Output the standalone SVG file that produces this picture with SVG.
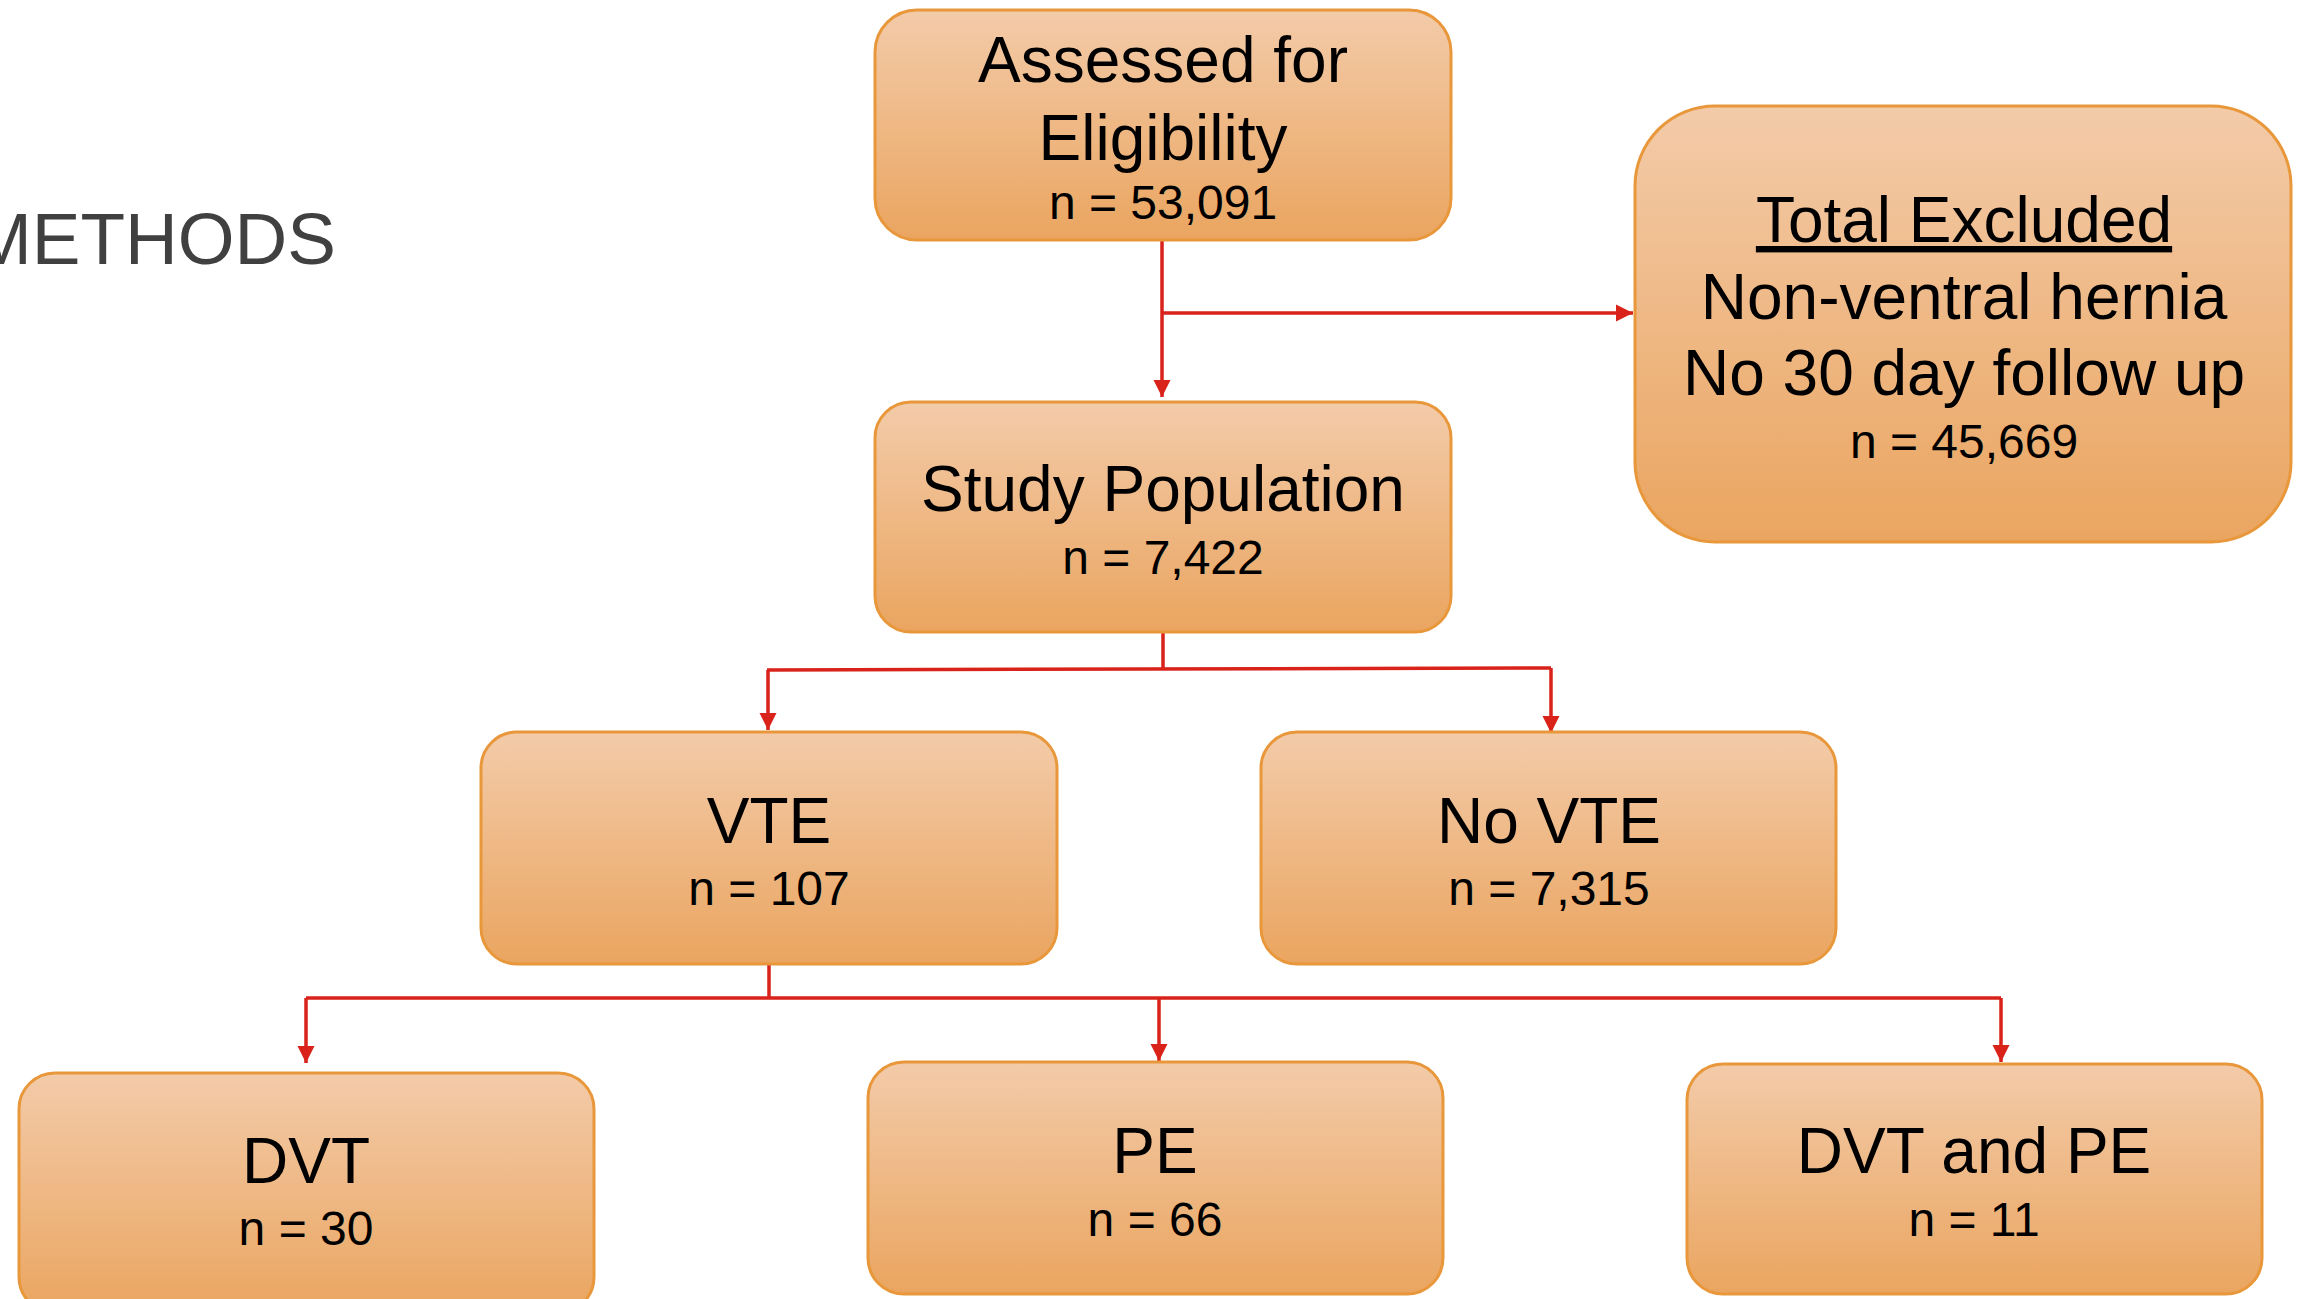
<svg xmlns="http://www.w3.org/2000/svg" width="2305" height="1299" viewBox="0 0 2305 1299">
<defs>
<linearGradient id="g" x1="0" y1="0" x2="0" y2="1">
<stop offset="0" stop-color="#F3CBA9"/>
<stop offset="1" stop-color="#EAA560"/>
</linearGradient>
<marker id="ah" viewBox="0 0 10 10" refX="10" refY="5" markerWidth="5" markerHeight="5" orient="auto" markerUnits="strokeWidth">
<path d="M0,0 L10,5 L0,10 Z" fill="#D9221A"/>
</marker>
<style>
.box{fill:url(#g);stroke:#E9973B;stroke-width:3}
.t{font-family:"Liberation Sans",Arial,sans-serif;fill:#000;text-anchor:middle}
.big{font-size:64px}
.sm{font-size:48px}
.c{fill:none;stroke:#D9221A;stroke-width:3.5}
</style>
</defs>
<text x="-29" y="264" style="font-family:'Liberation Sans',Arial,sans-serif;font-size:73px;fill:#404040">METHODS</text>
<g id="connectors">
<path class="c" d="M1162,240 L1162,397" marker-end="url(#ah)"/>
<path class="c" d="M1162,313 L1633,313" marker-end="url(#ah)"/>
<path class="c" d="M1163,632 L1163,670"/>
<path class="c" d="M767,670 L1551,668"/>
<path class="c" d="M768,670 L768,730" marker-end="url(#ah)"/>
<path class="c" d="M1551,668 L1551,733" marker-end="url(#ah)"/>
<path class="c" d="M769,964 L769,998"/>
<path class="c" d="M306,998 L2001,998"/>
<path class="c" d="M306,998 L306,1063" marker-end="url(#ah)"/>
<path class="c" d="M1159,998 L1159,1061" marker-end="url(#ah)"/>
<path class="c" d="M2001,998 L2001,1062" marker-end="url(#ah)"/>
</g>
<g id="assessed">
<rect class="box" x="875" y="10" width="576" height="230" rx="42"/>
<text class="t big" x="1163" y="82">Assessed for</text>
<text class="t big" x="1163" y="160">Eligibility</text>
<text class="t sm" x="1163" y="219">n = 53,091</text>
</g>
<g id="excluded">
<rect class="box" x="1635" y="106" width="656" height="436" rx="80"/>
<text class="t big" x="1964" y="242" text-decoration="underline">Total Excluded</text>
<text class="t big" x="1964" y="319">Non-ventral hernia</text>
<text class="t big" x="1964" y="395">No 30 day follow up</text>
<text class="t sm" x="1964" y="458">n = 45,669</text>
</g>
<g id="study">
<rect class="box" x="875" y="402" width="576" height="230" rx="36"/>
<text class="t big" x="1163" y="511">Study Population</text>
<text class="t sm" x="1163" y="574">n = 7,422</text>
</g>
<g id="vte">
<rect class="box" x="481" y="732" width="576" height="232" rx="36"/>
<text class="t big" x="769" y="843">VTE</text>
<text class="t sm" x="769" y="905">n = 107</text>
</g>
<g id="novte">
<rect class="box" x="1261" y="732" width="575" height="232" rx="36"/>
<text class="t big" x="1549" y="843">No VTE</text>
<text class="t sm" x="1549" y="905">n = 7,315</text>
</g>
<g id="dvt">
<rect class="box" x="19" y="1073" width="575" height="240" rx="36"/>
<text class="t big" x="306" y="1183">DVT</text>
<text class="t sm" x="306" y="1245">n = 30</text>
</g>
<g id="pe">
<rect class="box" x="868" y="1062" width="575" height="232" rx="36"/>
<text class="t big" x="1155" y="1173">PE</text>
<text class="t sm" x="1155" y="1236">n = 66</text>
</g>
<g id="dvtpe">
<rect class="box" x="1687" y="1064" width="575" height="230" rx="36"/>
<text class="t big" x="1974" y="1173">DVT and PE</text>
<text class="t sm" x="1974" y="1236">n = 11</text>
</g>
</svg>
